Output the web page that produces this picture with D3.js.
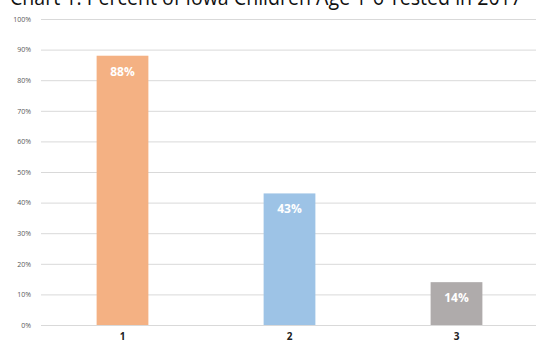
<!DOCTYPE html>
<html>
<head>
<meta charset="utf-8">
<script src="https://cdn.jsdelivr.net/npm/d3@7"></script>
<style>
  body { margin: 0; background: #fff; }
  svg { display: block; }
</style>
</head>
<body>
<div id="wrapper"></div>
<script>
// Data
const categories = ["1", "2", "3"]
const values = [0.88, 0.43, 0.14]
const valueLabels = ["88%", "43%", "14%"]
const barColors = ["#F4B183", "#9DC3E6", "#AFABAB"]
const yTicks = [0, 0.1, 0.2, 0.3, 0.4, 0.5, 0.6, 0.7, 0.8, 0.9, 1.0]
const title = "Chart 1: Percent of Iowa Children Age 1-6 Tested in 2017"

function drawBars() {
  const dms = {
    width: 536,
    height: 341,
    margin: { top: 19, right: -4, bottom: 16, left: 39 },
  }
  dms.boundedWidth = dms.width - dms.margin.left - dms.margin.right
  dms.boundedHeight = dms.height - dms.margin.top - dms.margin.bottom

  const wrapper = d3.select("#wrapper")
    .append("svg")
    .attr("width", dms.width)
    .attr("height", dms.height)

  // title, top half cut off in the original
  wrapper.append("text")
    .attr("x", 10)
    .attr("y", 4.5)
    .attr("textLength", 512)
    .attr("lengthAdjust", "spacingAndGlyphs")
    .attr("font-family", "Open Sans, sans-serif")
    .attr("font-size", "21px")
    .attr("fill", "#111")
    .text(title)

  const bounds = wrapper.append("g")
    .attr("transform", `translate(${dms.margin.left},${dms.margin.top})`)

  const xScale = d3.scaleBand()
    .domain(categories)
    .range([0, dms.boundedWidth])
    .paddingInner(0.69)
    .paddingOuter(0.345)

  const yScale = d3.scaleLinear()
    .domain([0, 1])
    .range([dms.boundedHeight, 0])

  // gridlines + tick labels
  const yAxis = bounds.append("g")
    .call(d3.axisLeft(yScale)
      .tickValues(yTicks)
      .tickFormat(d3.format(".0%"))
      .tickSize(-dms.boundedWidth - 10)
      .tickPadding(8))
  yAxis.select(".domain").remove()
  yAxis.selectAll(".tick line")
    .attr("stroke", "#d9d9d9")
    .attr("x1", 2)
  yAxis.selectAll(".tick text")
    .attr("x", -8)
    .attr("fill", "#595959")
    .attr("font-size", "7px")
    .attr("font-family", "Open Sans, sans-serif")

  // bars
  const barGroup = bounds.append("g")
    .selectAll("g")
    .data(categories)
    .join("g")

  barGroup.append("rect")
    .attr("x", d => xScale(d))
    .attr("y", (d, i) => yScale(values[i]))
    .attr("width", xScale.bandwidth())
    .attr("height", (d, i) => dms.boundedHeight - yScale(values[i]))
    .attr("fill", (d, i) => barColors[i])

  barGroup.append("text")
    .attr("x", d => xScale(d) + xScale.bandwidth() / 2)
    .attr("y", (d, i) => yScale(values[i]) + 20)
    .attr("text-anchor", "middle")
    .attr("fill", "#fff")
    .attr("font-weight", "bold")
    .attr("font-size", "12px")
    .attr("font-family", "Open Sans, sans-serif")
    .text((d, i) => valueLabels[i])

  // x axis labels
  const xAxis = bounds.append("g")
    .attr("transform", `translate(0,${dms.boundedHeight})`)
    .call(d3.axisBottom(xScale).tickSize(0).tickPadding(8))
  xAxis.select(".domain").remove()
  xAxis.selectAll(".tick text")
    .attr("fill", "#222")
    .attr("font-weight", "bold")
    .attr("font-size", "10px")
    .attr("font-family", "Open Sans, sans-serif")
}

drawBars()
</script>
</body>
</html>
